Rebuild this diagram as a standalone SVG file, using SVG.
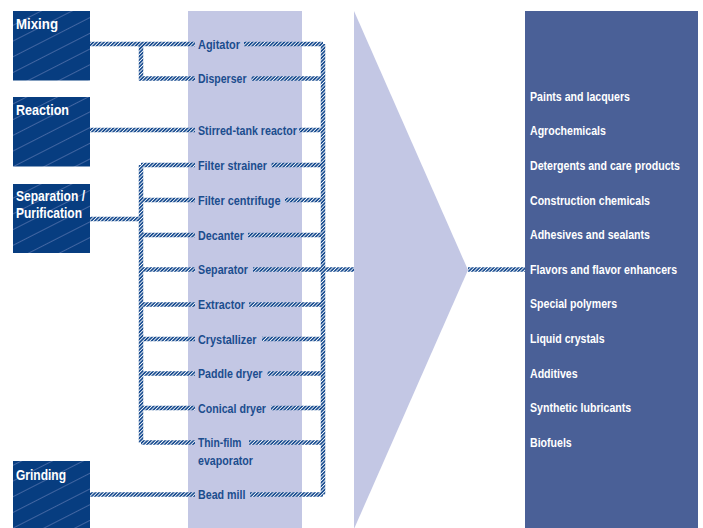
<svg xmlns="http://www.w3.org/2000/svg" width="703" height="528" viewBox="0 0 703 528">
<style>
.box{fill:url(#boxpat)}
text{font-family:"Liberation Sans",Arial,sans-serif;font-weight:bold}
.bt{font-size:15.5px;fill:#ffffff}
.mt{font-size:13px;fill:#1b4d8e}
.rt{font-size:13px;fill:#ffffff}
.c{fill:none;stroke:url(#hatch);stroke-width:4.5}
</style>
<defs>
<pattern id="hatch" width="2.5" height="2.5" patternUnits="userSpaceOnUse" patternTransform="rotate(45)">
<rect width="2.5" height="2.5" fill="#ffffff"/>
<rect width="1.7" height="2.5" fill="#1c4f92"/>
</pattern>
<pattern id="boxpat" width="40" height="14" patternUnits="userSpaceOnUse" patternTransform="rotate(-27)">
<rect width="40" height="14" fill="#073d80"/>
<rect y="0" width="40" height="0.8" fill="#4f6fa9"/>
</pattern>
</defs>
<rect x="188" y="11" width="114" height="517" fill="#c3c7e4"/>
<polygon points="354,11 468,270 354,529" fill="#c3c7e4"/>
<rect x="525" y="11" width="173" height="517" fill="#4a6097"/>
<g id="connectors">
<path class="c" d="M90,44 H195 M141,44 V78.5 H195"/>
<path class="c" d="M90,130 H195"/>
<path class="c" d="M90,219 H141 M141,165 V442.5 M141,165 H195 M141,200 H195 M141,235 H195 M141,269.5 H195 M141,304.5 H195 M141,339 H195 M141,373.5 H195 M141,408 H195 M141,442.5 H195"/>
<path class="c" d="M90,494.5 H195"/>
<path class="c" d="M323,44 V494.5 M244,44 H323 M251.5,78.5 H323 M299,130 H323 M271.5,165 H323 M285,200 H323 M248,235 H323 M253,269.5 H354 M249,304.5 H323 M262,339 H323 M267.5,373.5 H323 M271,408 H323 M249,442.5 H323 M250,494.5 H323"/>
<path class="c" d="M468,269.5 H525"/>
</g>
<g id="mixing"><rect class="box" x="13" y="11" width="77" height="69.5"/><text class="bt" x="16" y="29" textLength="42" lengthAdjust="spacingAndGlyphs">Mixing</text></g>
<g id="reaction"><rect class="box" x="13" y="97" width="77" height="69.5"/><text class="bt" x="16" y="114.5" textLength="53" lengthAdjust="spacingAndGlyphs">Reaction</text></g>
<g id="separation"><rect class="box" x="13" y="184" width="77" height="69"/><text class="bt" x="16" y="200.5" textLength="69" lengthAdjust="spacingAndGlyphs">Separation /</text><text class="bt" x="16" y="218" textLength="66" lengthAdjust="spacingAndGlyphs">Purification</text></g>
<g id="grinding"><rect class="box" x="13" y="461" width="77" height="67"/><text class="bt" x="16" y="479.5" textLength="50" lengthAdjust="spacingAndGlyphs">Grinding</text></g>
<g id="agitator"><text class="mt" x="198" y="48.5" textLength="42" lengthAdjust="spacingAndGlyphs">Agitator</text></g>
<g id="disperser"><text class="mt" x="198" y="83" textLength="48.5" lengthAdjust="spacingAndGlyphs">Disperser</text></g>
<g id="stirred-tank-reactor"><text class="mt" x="198" y="134.5" textLength="99" lengthAdjust="spacingAndGlyphs">Stirred-tank reactor</text></g>
<g id="filter-strainer"><text class="mt" x="198" y="169.5" textLength="69" lengthAdjust="spacingAndGlyphs">Filter strainer</text></g>
<g id="filter-centrifuge"><text class="mt" x="198" y="204.5" textLength="82.5" lengthAdjust="spacingAndGlyphs">Filter centrifuge</text></g>
<g id="decanter"><text class="mt" x="198" y="239.5" textLength="46" lengthAdjust="spacingAndGlyphs">Decanter</text></g>
<g id="separator"><text class="mt" x="198" y="274" textLength="50" lengthAdjust="spacingAndGlyphs">Separator</text></g>
<g id="extractor"><text class="mt" x="198" y="309" textLength="47" lengthAdjust="spacingAndGlyphs">Extractor</text></g>
<g id="crystallizer"><text class="mt" x="198" y="343.5" textLength="58.5" lengthAdjust="spacingAndGlyphs">Crystallizer</text></g>
<g id="paddle-dryer"><text class="mt" x="198" y="378" textLength="64.5" lengthAdjust="spacingAndGlyphs">Paddle dryer</text></g>
<g id="conical-dryer"><text class="mt" x="198" y="412.5" textLength="68" lengthAdjust="spacingAndGlyphs">Conical dryer</text></g>
<g id="thin-film-evaporator"><text class="mt" x="198" y="447" textLength="43.5" lengthAdjust="spacingAndGlyphs">Thin-film</text><text class="mt" x="198" y="464.5" textLength="55" lengthAdjust="spacingAndGlyphs">evaporator</text></g>
<g id="bead-mill"><text class="mt" x="198" y="498.5" textLength="47.5" lengthAdjust="spacingAndGlyphs">Bead mill</text></g>
<g id="applications" transform="translate(530,0) scale(0.815,1)">
<text class="rt" x="0" y="101">Paints and lacquers</text>
<text class="rt" x="0" y="135.5">Agrochemicals</text>
<text class="rt" x="0" y="170">Detergents and care products</text>
<text class="rt" x="0" y="205">Construction chemicals</text>
<text class="rt" x="0" y="239.5">Adhesives and sealants</text>
<text class="rt" x="0" y="274">Flavors and flavor enhancers</text>
<text class="rt" x="0" y="308.5">Special polymers</text>
<text class="rt" x="0" y="343">Liquid crystals</text>
<text class="rt" x="0" y="378">Additives</text>
<text class="rt" x="0" y="412.5">Synthetic lubricants</text>
<text class="rt" x="0" y="447">Biofuels</text>
</g>
</svg>
